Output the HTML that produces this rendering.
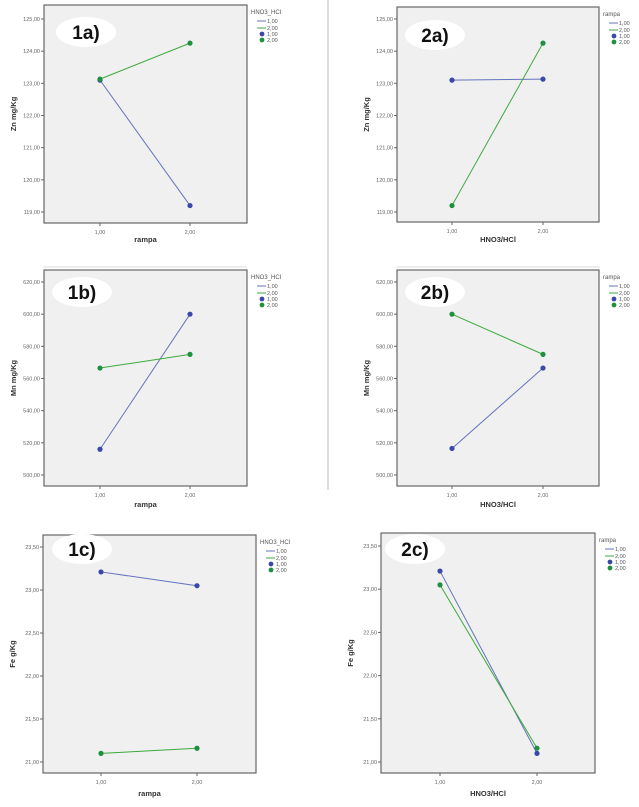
<!DOCTYPE html>
<html><head><meta charset="utf-8"><style>
html,body{margin:0;padding:0;background:#fff;}
svg{display:block;font-family:"Liberation Sans",sans-serif;}
</style></head><body>
<svg id="s" width="639" height="807" viewBox="0 0 639 807">
<line x1="43" y1="267" x2="247" y2="267" stroke="#ddd" stroke-width="1"/>
<line x1="328" y1="0" x2="328" y2="490" stroke="#bbb" stroke-width="1"/>
<line x1="396" y1="267" x2="600" y2="267" stroke="#ddd" stroke-width="1"/>
</svg>
<script>
const levels = ["1,00","2,00"];
const yTicksZn = [119,120,121,122,123,124,125];
const yTicksMn = [500,520,540,560,580,600,620];
const yTicksFe = [21.0,21.5,22.0,22.5,23.0,23.5];
const zn1Blue = [123.1, 119.2];
const zn1Green = [123.13, 124.25];
const zn2Blue = [123.1, 123.13];
const zn2Green = [119.2, 124.25];
const mn1Blue = [516, 600];
const mn1Green = [566.5, 575];
const mn2Blue = [516.5, 566.5];
const mn2Green = [600, 575];
const fe1Blue = [23.21, 23.05];
const fe1Green = [21.1, 21.16];
const fe2Blue = [23.21, 21.1];
const fe2Green = [23.05, 21.16];

const panels = [
 {id:"1a",box:[44,5,247,223],yt:yTicksZn,yr:[125,19,119,212],xp:[100,190],xl:"rampa",yl:"Zn mg/Kg",lg:"HNO3_HCI",b:zn1Blue,g:zn1Green,el:[86,32],xly:242,dec:2},
 {id:"2a",box:[397,7,599,222],yt:yTicksZn,yr:[125,19,119,212],xp:[452,543],xl:"HNO3/HCl",yl:"Zn mg/Kg",lg:"rampa",b:zn2Blue,g:zn2Green,el:[435,35],xly:242,dec:2},
 {id:"1b",box:[44,270,247,486],yt:yTicksMn,yr:[620,282,500,475],xp:[100,190],xl:"rampa",yl:"Mn mg/Kg",lg:"HNO3_HCI",b:mn1Blue,g:mn1Green,el:[82,292],xly:507,dec:2},
 {id:"2b",box:[397,270,599,486],yt:yTicksMn,yr:[620,282,500,475],xp:[452,543],xl:"HNO3/HCl",yl:"Mn mg/Kg",lg:"rampa",b:mn2Blue,g:mn2Green,el:[435,292],xly:507,dec:2},
 {id:"1c",box:[43,535,256,773],yt:yTicksFe,yr:[23.5,547,21.0,762],xp:[101,197],xl:"rampa",yl:"Fe g/Kg",lg:"HNO3_HCI",b:fe1Blue,g:fe1Green,el:[82,549],xly:796,dec:2},
 {id:"2c",box:[381,533,595,773],yt:yTicksFe,yr:[23.5,546,21.0,762],xp:[440,537],xl:"HNO3/HCl",yl:"Fe g/Kg",lg:"rampa",b:fe2Blue,g:fe2Green,el:[415,549],xly:796,dec:2}
];
const NS="http://www.w3.org/2000/svg";
const svg=document.getElementById("s");
function mk(tag,attrs,parent,text){const e=document.createElementNS(NS,tag);for(const k in attrs)e.setAttribute(k,attrs[k]);if(text!==undefined)e.textContent=text;(parent||svg).appendChild(e);return e;}
const BLUE="#6573c0",BLUED="#3a48a8",GREEN="#3caa3c",GREEND="#1e9040";
panels.forEach(p=>{
 const g=mk("g",{});
 
 
 const [x0,y0,x1,y1]=p.box;
 const r=mk("rect",{x:x0,y:y0,width:x1-x0,height:y1-y0,fill:"#f0f0f0",stroke:"#666","stroke-width":1.2},g);
 
 
 const [v0,p0,v1,p1]=p.yr;
 const ys=v=>p0+(v-v0)*(p1-p0)/(v1-v0);
 p.yt.forEach(t=>{
  const y=ys(t);
  const tk=mk("line",{x1:x0-3,y1:y,x2:x0,y2:y,stroke:"#666"},g);
  
  
  const tl=mk("text",{x:x0-4,y:y+2,"font-size":5.5,fill:"#666","text-anchor":"end"},g,t.toFixed(2).replace(".",","));
  
  
 });
 levels.forEach((l,i)=>{
  const x=p.xp[i];
  const tk=mk("line",{x1:x,y1:y1,x2:x,y2:y1+3,stroke:"#666"},g);
  
  
  const tl=mk("text",{x:x,y:y1+11,"font-size":5.5,fill:"#666","text-anchor":"middle"},g,l);
  
  
 });
 const xt=mk("text",{x:(x0+x1)/2,y:p.xly,"font-size":7.5,"font-weight":"bold",fill:"#333","text-anchor":"middle"},g,p.xl);
 
 
 const yx=x0-28,yy=(y0+y1)/2;
 const yt=mk("text",{x:yx,y:yy,"font-size":7.5,"font-weight":"bold",fill:"#333","text-anchor":"middle",transform:`rotate(-90 ${yx} ${yy})`},g,p.yl);
 
 
 [[p.b,BLUE,BLUED,"blue"],[p.g,GREEN,GREEND,"green"]].forEach(([vals,lc,pc,nm])=>{
  const ln=mk("line",{x1:p.xp[0],y1:ys(vals[0]),x2:p.xp[1],y2:ys(vals[1]),stroke:lc,"stroke-width":1},g);
  
  
  vals.forEach((v,i)=>{
   const c=mk("circle",{cx:p.xp[i],cy:ys(v),r:2.6,fill:pc},g);
   
   
  });
 });
 const el=mk("ellipse",{cx:p.el[0],cy:p.el[1],rx:30,ry:15,fill:"#fff"},g);
 
 
 const lt=mk("text",{x:p.el[0],y:p.el[1]+7,"font-size":19,"font-weight":"bold",fill:"#111","text-anchor":"middle"},g,p.id+")");
 
 
 const lx=x1+4,ly=y0+9;
 const lg=mk("g",{},g);
 
 
 mk("text",{x:lx,y:ly,"font-size":6,fill:"#555"},lg,p.lg);
 mk("line",{x1:lx+6,y1:ly+7,x2:lx+15,y2:ly+7,stroke:BLUE},lg);
 mk("text",{x:lx+16,y:ly+9,"font-size":5.5,fill:"#555"},lg,"1,00");
 mk("line",{x1:lx+6,y1:ly+14,x2:lx+15,y2:ly+14,stroke:GREEN},lg);
 mk("text",{x:lx+16,y:ly+16,"font-size":5.5,fill:"#555"},lg,"2,00");
 mk("circle",{cx:lx+11,cy:ly+20,r:2.4,fill:BLUED},lg);
 mk("text",{x:lx+16,y:ly+22,"font-size":5.5,fill:"#555"},lg,"1,00");
 mk("circle",{cx:lx+11,cy:ly+26,r:2.4,fill:GREEND},lg);
 mk("text",{x:lx+16,y:ly+28,"font-size":5.5,fill:"#555"},lg,"2,00");
});
</script>
</body></html>
